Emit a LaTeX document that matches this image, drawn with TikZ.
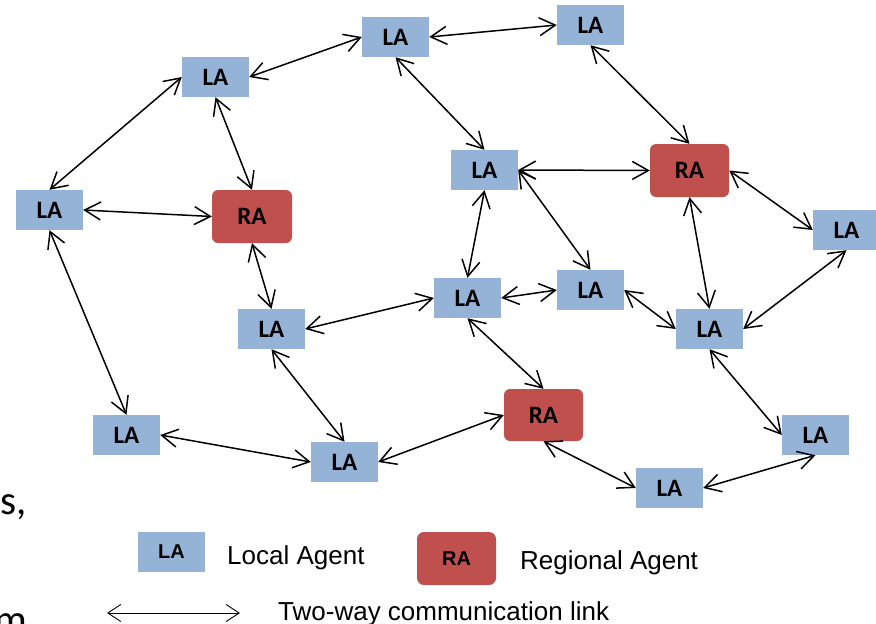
\documentclass[tikz,border=0pt]{standalone}
\usepackage{fontspec}
\setmainfont{Liberation Sans}
\newfontfamily\calibri{Carlito}
\usepackage{tikz}
\usetikzlibrary{arrows.meta}

\definecolor{laBlue}{HTML}{95B3D7}
\definecolor{raRed}{HTML}{C0504D}

\tikzset{
	la/.style={fill=laBlue, minimum width=67pt, minimum height=40pt, inner sep=0pt,
		font=\calibri\bfseries\fontsize{25}{25}\selectfont},
	ra/.style={fill=raRed, rounded corners=6pt, minimum width=79pt, minimum height=53pt,
		inner sep=0pt, font=\calibri\bfseries\fontsize{25}{25}\selectfont},
	link/.style={<->, >={Straight Barb[length=16pt,width=18pt]}, line width=1.5pt},
	keytext/.style={anchor=base west, inner sep=0pt, font=\fontsize{26}{26}\selectfont},
}

\begin{document}
\begin{tikzpicture}[x=1pt, y=-1pt]
		\useasboundingbox (0,0) rectangle (876,624);
		% cut-off words of the slide text
		\begin{scope}
			\clip (0,0) rectangle (876,624);
			\node[anchor=base west, inner sep=0pt, font=\calibri\fontsize{41}{41}\selectfont] (cutS) at (0,514) {s,};
			\node[anchor=base west, inner sep=0pt, font=\calibri\fontsize{41}{41}\selectfont] (cutM) at (-6,633) {m};
		\end{scope}
		% local agents
		\node[la] (la1) at (215.5,77) {LA};
		\node[la] (la2) at (395.5,37) {LA};
		\node[la] (la3) at (590.5,25) {LA};
		\node[la] (la4) at (49.5,210) {LA};
		\node[la] (la5) at (484.5,170) {LA};
		\node[la] (la6) at (846.5,230) {LA};
		\node[la] (la7) at (467.5,298) {LA};
		\node[la] (la8) at (590.5,290) {LA};
		\node[la] (la9) at (709.5,329) {LA};
		\node[la] (la10) at (271.5,329) {LA};
		\node[la] (la11) at (126.5,435) {LA};
		\node[la] (la12) at (344.5,462) {LA};
		\node[la] (la13) at (669.5,488) {LA};
		\node[la] (la14) at (815.5,435) {LA};
		% regional agents
		\node[ra, minimum width=80pt] (ra1) at (252,216.5) {RA};
		\node[ra] (ra2) at (689.5,170.5) {RA};
		\node[ra, minimum height=52pt] (ra3) at (543.5,415) {RA};
		% links
		\draw[link] (la1.east) -- (la2.west);
		\draw[link] (la2.east) -- (la3.west);
		\draw[link] (la1.west) -- (la4.north);
		\draw[link] (la1.south) -- (ra1.north);
		\draw[link] (la4.east) -- (ra1.west);
		\draw[link] (la4.south) -- (la11.north);
		\draw[link] (ra1.south) -- (la10.north);
		\draw[link] (la2.south) -- (la5.north);
		\draw[link] (la3.south) -- (ra2.north);
		\draw[link] (la5.east) -- (ra2.west);
		\draw[link] (la5.south) -- (la7.north);
		\draw[link] (la5.east) -- (la8.north);
		\draw[link] (ra2.east) -- (la6.west);
		\draw[link] (ra2.south) -- (la9.north);
		\draw[link] (la6.south) -- (la9.east);
		\draw[link] (la7.east) -- (la8.west);
		\draw[link] (la8.east) -- (la9.west);
		\draw[link] (la7.west) -- (la10.east);
		\draw[link] (la7.south) -- (ra3.north);
		\draw[link] (la10.south) -- (la12.north);
		\draw[link] (la11.east) -- (la12.west);
		\draw[link] (la12.east) -- (ra3.west);
		\draw[link] (ra3.south) -- (la13.west);
		\draw[link] (la13.east) -- (la14.south);
		\draw[link] (la9.south) -- (la14.west);
		% legend
		\node[la, font=\bfseries\fontsize{20}{20}\selectfont] (keyLA) at (171.5,552) {LA};
		\node[keytext] (keyLAtext) at (227,564) {Local Agent};
		\node[ra, rounded corners=7pt, font=\bfseries\fontsize{20}{20}\selectfont] (keyRA) at (456.5,558.5) {RA};
		\node[keytext] (keyRAtext) at (520,569) {Regional Agent};
		\coordinate (keyL) at (107,613);
		\coordinate (keyR) at (240,613);
		\draw[link, line width=0.9pt, >={Straight Barb[length=13pt,width=17pt]}] (keyL) -- (keyR);
		\node[keytext] (keyLinktext) at (278,620) {Two-way communication link};
	\end{tikzpicture}
\end{document}
